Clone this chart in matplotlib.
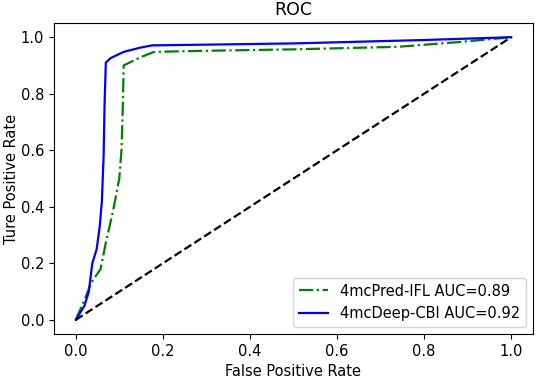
import matplotlib
matplotlib.use("Agg")
import matplotlib.pyplot as plt

# ROC points
fpr_ifl = [0.0, 0.02, 0.035, 0.057, 0.07, 0.085, 0.1, 0.105, 0.108, 0.11,
           0.15, 0.18, 0.3, 0.5, 0.74, 0.89, 1.0]
tpr_ifl = [0.0, 0.07, 0.13, 0.18, 0.28, 0.38, 0.5, 0.6, 0.75, 0.90,
           0.93, 0.948, 0.952, 0.957, 0.966, 0.984, 1.0]

fpr_cbi = [0.0, 0.02, 0.03, 0.038, 0.048, 0.055, 0.06, 0.064, 0.066, 0.069,
           0.08, 0.11, 0.148, 0.175, 0.5, 0.8, 1.0]
tpr_cbi = [0.0, 0.05, 0.1, 0.2, 0.25, 0.33, 0.42, 0.58, 0.75, 0.91,
           0.926, 0.948, 0.963, 0.971, 0.978, 0.99, 1.0]

labels = ['4mcPred-IFL AUC=0.89', '4mcDeep-CBI AUC=0.92']

plt.rcParams['font.size'] = 10.5

fig = plt.figure(figsize=(5.36, 3.78), dpi=100)
ax = fig.add_axes([0.1007, 0.1164, 0.8937, 0.8226])

ax.plot(fpr_ifl, tpr_ifl, color='green', linestyle='-.', lw=1.6, label=labels[0])
ax.plot(fpr_cbi, tpr_cbi, color='blue', linestyle='-', lw=1.6, label=labels[1])
ax.plot([0, 1], [0, 1], 'k--', lw=1.6)

ax.set_title('ROC', fontsize=12.5)
ax.set_xlabel('False Positive Rate')
ax.set_ylabel('Ture Positive Rate', labelpad=1.5)
ax.legend(loc='lower right')

fig.savefig('out.png', dpi=100)
